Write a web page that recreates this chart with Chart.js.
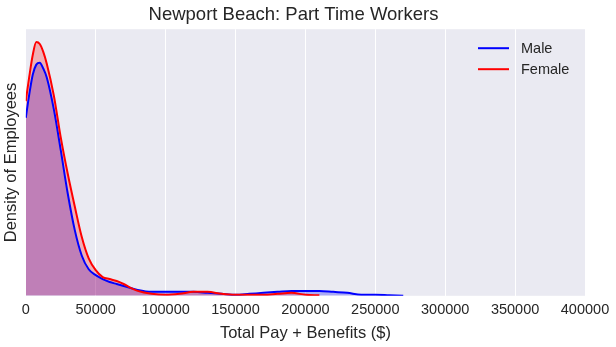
<!DOCTYPE html>
<html>
<head>
<meta charset="utf-8">
<script src="https://cdn.jsdelivr.net/npm/chart.js@4"></script>
<style>
  body { margin: 0; background: #fff; }
  #wrap { width: 616px; height: 347px; }
</style>
</head>
<body>
<div id="wrap"><canvas id="kdeChart" width="616" height="347"></canvas></div>
<script>
// x grid for the density curves (Total Pay + Benefits, $)
const payGrid = [
  0, 2500, 5000, 7500, 10000, 12500, 15000, 20000, 25000, 30000,
  35000, 40000, 45000, 50000, 55000, 60000, 65000, 70000, 75000, 80000,
  90000, 100000, 110000, 120000, 130000, 140000, 150000, 160000, 170000, 180000,
  190000, 200000, 210000, 220000, 230000, 240000, 250000, 260000, 270000
];

// density values (arbitrary units)
const maleDensity = [
  181, 205, 225, 235, 237, 231, 222, 190, 148, 104,
  67, 41, 27, 21, 17, 14, 12, 10, 8, 6,
  4, 4, 4, 4, 3, 2, 1, 2, 3, 4,
  5, 5, 5, 4, 3, 1, 1, 0.5, 0
];
const femaleDensity = [
  198, 223, 245, 258, 256, 248, 236, 204, 161, 124,
  91, 60, 38, 26, 19, 17, 15, 12, 8, 5,
  2, 1, 2, 4, 4, 2, 1, 1, 1, 2,
  3, 1, 0.5
];

const xTicks = [0, 50000, 100000, 150000, 200000, 250000, 300000, 350000, 400000];

const toPoints = (ys) => ys.map((y, i) => ({ x: payGrid[i], y: y }));

const textColor = '#262626';
const fontFamily = '"Liberation Sans", Arial, sans-serif';

// grey seaborn-like plot background
const bgPlugin = {
  id: 'plotBg',
  beforeDraw(chart) {
    const { ctx, chartArea: a } = chart;
    ctx.save();
    ctx.fillStyle = '#EAEAF2';
    ctx.fillRect(a.left, a.top, a.right - a.left, a.bottom - a.top);
    ctx.restore();
  }
};

// legend in the upper right of the plot
const legendPlugin = {
  id: 'innerLegend',
  afterDraw(chart) {
    const { ctx, chartArea: a } = chart;
    ctx.save();
    ctx.font = '14.5px ' + fontFamily;
    ctx.textBaseline = 'middle';
    chart.data.datasets.forEach((ds, i) => {
      const y = a.top + 19 + i * 21;
      ctx.strokeStyle = ds.borderColor;
      ctx.lineWidth = 2;
      ctx.beginPath();
      ctx.moveTo(a.right - 107, y);
      ctx.lineTo(a.right - 76, y);
      ctx.stroke();
      ctx.fillStyle = textColor;
      ctx.fillText(ds.label, a.right - 64, y + 1);
    });
    ctx.restore();
  }
};

const data = {
  datasets: [{
    label: 'Male',
    data: toPoints(maleDensity),
    borderColor: '#0000FF',
    backgroundColor: 'rgba(0, 0, 255, 0.27)',
    fill: 'origin',
    order: 2,
  }, {
    label: 'Female',
    data: toPoints(femaleDensity),
    borderColor: '#FF0000',
    backgroundColor: 'rgba(255, 0, 0, 0.25)',
    fill: 'origin',
    order: 1,
  }]
};

const config = {
  type: 'line',
  data: data,
  options: {
    responsive: false,
    animation: false,
    layout: {
      padding: { left: 2, right: 31, top: 0, bottom: 2 }
    },
    elements: {
      point: { radius: 0 },
      line: { borderWidth: 2, tension: 0.4, cubicInterpolationMode: 'monotone' }
    },
    plugins: {
      legend: { display: false },
      tooltip: { enabled: false },
      filler: { drawTime: 'beforeDatasetsDraw' },
      title: {
        display: true,
        text: 'Newport Beach: Part Time Workers',
        color: textColor,
        font: { family: fontFamily, size: 18.5, weight: 'normal' },
        padding: { top: 4, bottom: 3 }
      }
    },
    scales: {
      x: {
        type: 'linear',
        min: 0,
        max: 400000,
        afterBuildTicks: (scale) => { scale.ticks = xTicks.map(v => ({ value: v })); },
        ticks: {
          color: textColor,
          font: { family: fontFamily, size: 14.5 },
          padding: 5,
          maxRotation: 0,
          callback: (v) => String(v)
        },
        grid: { color: '#FFFFFF', lineWidth: 1, drawTicks: false },
        border: { display: false },
        title: {
          display: true,
          text: 'Total Pay + Benefits ($)',
          color: textColor,
          font: { family: fontFamily, size: 16.5 },
          padding: { top: 0, bottom: 2 }
        }
      },
      y: {
        min: 0,
        max: 271,
        ticks: { display: false },
        grid: { display: false, drawTicks: false },
        border: { display: false },
        title: {
          display: true,
          text: 'Density of Employees',
          color: textColor,
          font: { family: fontFamily, size: 16.5 },
          padding: { top: 0, bottom: 4 }
        }
      }
    }
  },
  plugins: [bgPlugin, legendPlugin]
};

const kdeChart = new Chart(document.getElementById('kdeChart'), config);
</script>
</body>
</html>
